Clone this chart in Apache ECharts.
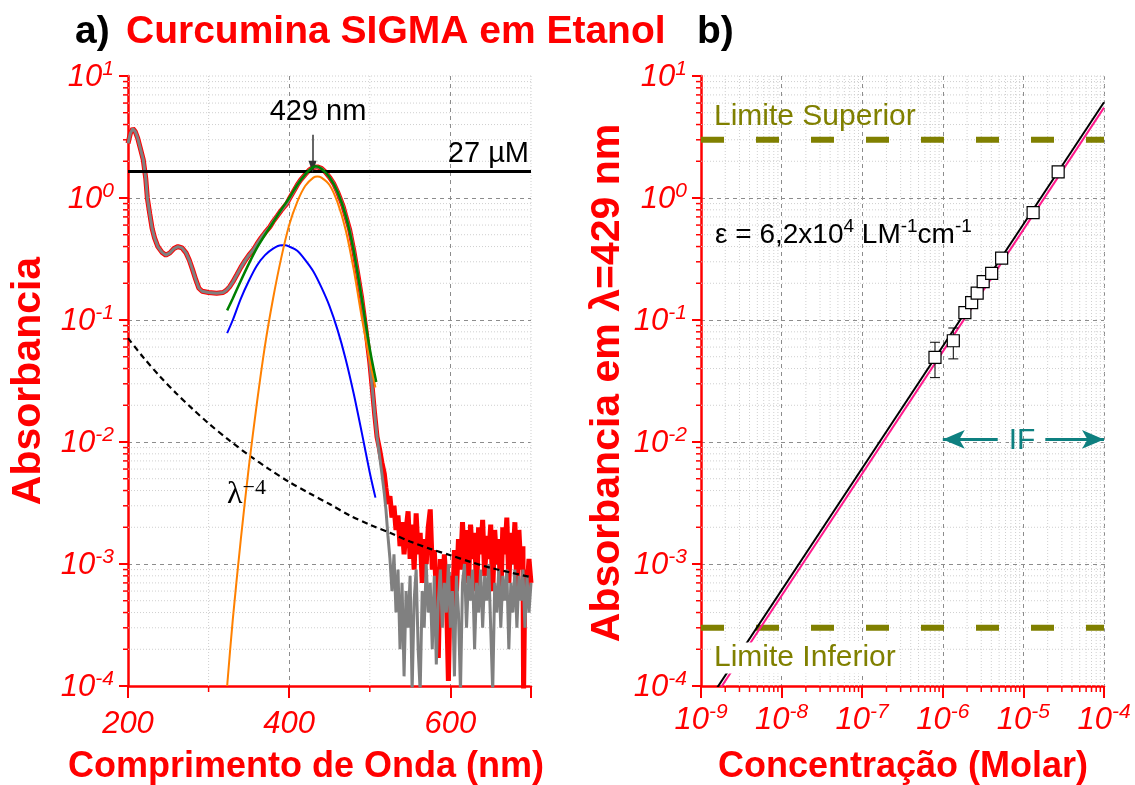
<!DOCTYPE html>
<html><head><meta charset="utf-8">
<script src="https://cdn.jsdelivr.net/npm/echarts@6/dist/echarts.min.js"></script>
<style>html,body{margin:0;padding:0;background:#fff}#c{width:1135px;height:785px}</style>
</head><body><div id="c"></div>
<script>
// ---------- Panel a) data: absorbance spectrum (wavelength nm, absorbance) ----------
const specMain = [[200,2.8],[203,3.4],[206,3.7],[209,3.5],[212,3.1],[215,2.6],[219,2.05],[222,1.45],[224,1.0],[227,0.74],[230,0.56],[233,0.47],[237,0.40],[242,0.36],[247,0.34],[252,0.355],[257,0.385],[262,0.40],[267,0.39],[272,0.355],[276,0.31],[280,0.26],[284,0.215],[288,0.182],[292,0.172],[300,0.168],[310,0.166],[318,0.168],[322,0.175],[326,0.187],[330,0.205],[335,0.235],[340,0.27],[345,0.305],[350,0.34],[356,0.38],[360,0.42],[365,0.47],[370,0.52],[376,0.58],[380,0.64],[385,0.71],[390,0.79],[397,0.90],[400,0.98],[405,1.12],[410,1.28],[414,1.40],[420,1.56],[425,1.70],[430,1.78],[435,1.80],[440,1.75],[445,1.63],[450,1.48],[455,1.32],[460,1.12],[464,0.96],[467,0.85],[470,0.72],[475,0.55],[480,0.375],[485,0.24],[490,0.15],[495,0.085],[500,0.045],[503,0.028],[506,0.017],[509,0.011]];
const redTail = [[512,0.0088],[515,0.0068],[518,0.0055],[520,0.0042],[522.5,0.0031],[525,0.0036],[527.5,0.0024],[530,0.0030],[532.5,0.0019],[535,0.0025],[537.5,0.0014],[540,0.0022],[542.5,0.0012],[545,0.0019],[547.5,0.0027],[550,0.0011],[552.5,0.0021],[555,0.0009],[557.5,0.0026],[560,0.0012],[562.5,0.0018],[565,0.0007],[567.5,0.0016],[570,0.0010],[572.5,0.0020],[575,0.0028],[577.5,0.0009],[580,0.0013],[582.5,0.0006],[585,0.00017],[587.5,0.0011],[590,0.0005],[592.5,0.0012],[595,0.0006],[597.5,0.00011],[600,0.0008],[602.5,0.0004],[605,0.0013],[607.5,0.0006],[610,0.0016],[612.5,0.0009],[615,0.0022],[617.5,0.0010],[620,0.0019],[622.5,0.0007],[625,0.0021],[627.5,0.0011],[630,0.0018],[632.5,0.0006],[635,0.0020],[637.5,0.0012],[640,0.0023],[642.5,0.0008],[645,0.0017],[647.5,0.0011],[650,0.0021],[652.5,0.0006],[655,0.0019],[657.5,0.0010],[660,0.0016],[662.5,0.0005],[665,0.0020],[667.5,0.0012],[670,0.0024],[672.5,0.0007],[675,0.0018],[677.5,0.0010],[680,0.0022],[682.5,0.0006],[685,0.0019],[687.5,0.0009],[690,0.0014],[690.8,0.00009],[692.5,0.0009],[695,0.0006],[697.5,0.0011],[700,0.0007]];
const grayTail = [[512,0.0078],[515,0.0055],[518,0.0038],[520,0.0028],[522.5,0.0017],[525,0.0011],[527.5,0.0006],[530,0.0012],[532.5,0.0004],[535,0.0009],[537.5,0.0002],[540,0.0007],[542.5,0.00012],[545,0.0006],[547.5,0.0003],[550,0.0008],[552.5,0.00009],[555,0.0005],[557.5,0.0009],[560,0.0002],[562.5,0.00009],[565,0.0006],[567.5,0.0003],[570,0.0010],[572.5,0.0004],[575,0.0007],[577.5,0.0002],[580,0.0008],[582.5,0.00015],[585,0.0005],[587.5,0.0009],[590,0.0003],[592.5,0.0007],[595,0.0004],[597.5,0.0010],[600,0.0003],[602.5,0.0006],[605,0.00012],[607.5,0.0008],[610,0.0004],[612.5,0.00009],[615,0.0007],[617.5,0.0010],[620,0.0003],[622.5,0.0008],[625,0.0005],[627.5,0.0009],[630,0.0002],[632.5,0.0007],[635,0.0004],[637.5,0.0009],[640,0.0003],[642.5,0.0008],[645,0.0005],[647.5,0.0010],[650,0.0003],[652.5,0.00009],[655,0.0007],[657.5,0.0004],[660,0.0009],[662.5,0.0003],[665,0.0008],[667.5,0.0005],[670,0.0009],[672.5,0.0002],[675,0.0007],[677.5,0.0004],[680,0.0009],[682.5,0.0003],[685,0.0008],[687.5,0.0005],[690,0.0009],[692.5,0.0003],[695,0.0008],[697.5,0.0004],[700,0.0007]];
const fitGreen = [[323,0.12],[330,0.15],[340,0.21],[350,0.29],[360,0.39],[370,0.50],[380,0.63],[390,0.80],[400,1.0],[410,1.28],[420,1.56],[428,1.76],[433,1.82],[440,1.74],[450,1.48],[460,1.12],[470,0.72],[480,0.37],[490,0.15],[500,0.058],[508,0.031]];
const fitBlue = [[323,0.078],[330,0.10],[340,0.15],[350,0.21],[360,0.28],[370,0.34],[380,0.385],[390,0.41],[395,0.41],[400,0.40],[410,0.37],[420,0.31],[430,0.25],[440,0.185],[450,0.13],[460,0.083],[470,0.048],[480,0.025],[490,0.012],[500,0.0056],[507,0.0035]];
const fitOrange = [[323,0.0001],[330,0.00035],[340,0.0016],[350,0.0063],[360,0.021],[370,0.062],[380,0.15],[390,0.32],[400,0.60],[410,0.93],[420,1.26],[430,1.47],[435,1.50],[440,1.47],[450,1.28],[460,0.92],[470,0.55],[480,0.26],[490,0.105],[500,0.046],[507,0.028]];
const scatterLambda4 = [[200,0.071],[220,0.0485],[240,0.0343],[260,0.025],[280,0.0187],[300,0.0142],[325,0.0104],[350,0.0078],[375,0.0060],[400,0.0047],[425,0.0038],[450,0.0031],[475,0.0025],[500,0.0021],[525,0.0018],[550,0.00153],[575,0.00133],[600,0.00118],[625,0.00104],[650,0.00093],[675,0.00085],[700,0.00078]];
const level27uM = 1.66;
const peakArrow = [[429,3.3],[429,1.8]];

// ---------- Panel b) data: calibration (molar concentration, absorbance at 429 nm) ----------
const concM  = [8.0e-7, 1.35e-6, 1.88e-6, 2.28e-6, 2.67e-6, 3.17e-6, 4.04e-6, 5.37e-6, 1.32e-5, 2.70e-5];
const absA   = [0.0494, 0.0676, 0.115, 0.139, 0.166, 0.206, 0.241, 0.321, 0.758, 1.64];
const absLo  = [0.0337, 0.048, 0.106, 0.128, 0.153, 0.19, 0.225, 0.30, 0.72, 1.56];
const absHi  = [0.0657, 0.086, 0.125, 0.151, 0.18, 0.222, 0.258, 0.342, 0.80, 1.72];
const fitBlack = [[1e-9,6.1e-5],[1e-4,6.1]];
const fitPink  = [[1e-9,5.5e-5],[1e-4,5.5]];
const limitSupLine = [[1e-9,3.0],[1e-4,3.0]];
const limitInfLine = [[1e-9,3.0e-4],[1e-4,3.0e-4]];
const ifLeft  = [[1e-6,0.0105],[4.8e-6,0.0105]];
const ifRight = [[1.87e-5,0.0105],[1e-4,0.0105]];

// ---------- axis tick structure ----------
const decadesY = [-4,-3,-2,-1,0];
const decadesX = [-9,-8,-7,-6,-5];
const mult = [2,3,4,5,6,7,8,9];
const yMinor = []; decadesY.forEach(d=>mult.forEach(k=>yMinor.push(k*Math.pow(10,d))));
const xMinorB = []; decadesX.forEach(d=>mult.forEach(k=>xMinorB.push(k*Math.pow(10,d))));
const xMinorA = [300,500];

const RED='#ff0000';
const OLIVE='#808000';
const FONT='"Liberation Sans", Arial, Helvetica, sans-serif';
const richTick = {
  b:{fontSize:31,fontStyle:'italic',color:RED,fontFamily:FONT,lineHeight:34,verticalAlign:'bottom'},
  s:{fontSize:21,fontStyle:'italic',color:RED,fontFamily:FONT,lineHeight:21,verticalAlign:'top'}
};
function powLabel(v){const e=Math.round(Math.log10(v));return '{b|10}{s|'+e+'}';}
const majorSplit = {show:true,showMinLine:false,showMaxLine:false,lineStyle:{color:'#8c8c8c',width:1,type:[4,4]}};

function minorRenderer(xMin, yMin, xr, yr){
  return function(params, api){
    const ch=[];
    const dot={stroke:'#cfcfcf',lineWidth:1,lineDash:[1,2]};
    yMin.concat([yr[1]]).forEach(v=>{
      const a=api.coord([xr[0],v]), b=api.coord([xr[1],v]);
      ch.push({type:'line',shape:{x1:a[0],y1:a[1],x2:b[0],y2:b[1]},style:dot});
    });
    yMin.forEach(v=>{
      const a=api.coord([xr[0],v]);
      ch.push({type:'line',shape:{x1:a[0]-5,y1:a[1],x2:a[0],y2:a[1]},style:{stroke:RED,lineWidth:1.5}});
    });
    xMin.concat([xr[1]]).forEach(v=>{
      const a=api.coord([v,yr[0]]), b=api.coord([v,yr[1]]);
      ch.push({type:'line',shape:{x1:a[0],y1:a[1],x2:b[0],y2:b[1]},style:dot});
    });
    xMin.forEach(v=>{
      const a=api.coord([v,yr[0]]);
      ch.push({type:'line',shape:{x1:a[0],y1:a[1],x2:a[0],y2:a[1]+6},style:{stroke:RED,lineWidth:1.5}});
    });
    return {type:'group',children:ch};
  };
}

const chart = echarts.init(document.getElementById('c'), null, {renderer:'canvas'});
const axisLineStyle = {show:true,onZero:false,lineStyle:{color:RED,width:2.5}};
const option = {
  animation:false,
  grid:[
    {left:128,top:76,width:403,height:610},
    {left:701,top:76,width:403,height:610}
  ],
  xAxis:[
    {type:'value',gridIndex:0,min:200,max:700,interval:200,
     axisLine:axisLineStyle,axisTick:{show:true,length:12,lineStyle:{color:RED,width:2}},
     axisLabel:{formatter:v=>v===700?'':'{b|'+v+'}',rich:richTick,margin:20},
     splitLine:majorSplit},
    {type:'log',gridIndex:1,min:1e-9,max:1e-4,logBase:10,splitNumber:5,
     axisLine:axisLineStyle,axisTick:{show:true,length:12,lineStyle:{color:RED,width:2}},
     axisLabel:{formatter:powLabel,rich:richTick,margin:16},
     splitLine:majorSplit}
  ],
  yAxis:[
    {type:'log',gridIndex:0,min:1e-4,max:10,logBase:10,splitNumber:5,
     axisLine:axisLineStyle,axisTick:{show:true,length:9,lineStyle:{color:RED,width:2}},
     axisLabel:{formatter:powLabel,rich:richTick,margin:14},
     splitLine:majorSplit},
    {type:'log',gridIndex:1,min:1e-4,max:10,logBase:10,splitNumber:5,
     axisLine:axisLineStyle,axisTick:{show:true,length:9,lineStyle:{color:RED,width:2}},
     axisLabel:{formatter:powLabel,rich:richTick,margin:14},
     splitLine:majorSplit}
  ],
  series:[
    {type:'custom',xAxisIndex:0,yAxisIndex:0,z:1,silent:true,data:[[450,0.01]],
     renderItem:minorRenderer(xMinorA,yMinor,[200,700],[1e-4,10])},
    {type:'custom',xAxisIndex:1,yAxisIndex:1,z:1,silent:true,data:[[1e-6,0.01]],
     renderItem:minorRenderer(xMinorB,yMinor,[1e-9,1e-4],[1e-4,10])},
    // panel a
    {name:'27 uM',type:'line',xAxisIndex:0,yAxisIndex:0,data:[],z:2,
     markLine:{silent:true,symbol:'none',animation:false,
       lineStyle:{color:'#000',width:3,type:'solid'},
       label:{show:true,position:'insideEndTop',formatter:'27 µM',color:'#000',fontSize:29,fontFamily:FONT,distance:[2,3]},
       data:[{yAxis:level27uM}]}},
    {name:'red',type:'line',xAxisIndex:0,yAxisIndex:0,z:3,showSymbol:false,
     data:specMain.concat(redTail),lineStyle:{color:'#ff0000',width:5},itemStyle:{color:'#ff0000'}},
    {name:'gray',type:'line',xAxisIndex:0,yAxisIndex:0,z:4,showSymbol:false,
     data:specMain.concat(grayTail),lineStyle:{color:'#808080',width:3},itemStyle:{color:'#808080'}},
    {name:'lambda4',type:'line',xAxisIndex:0,yAxisIndex:0,z:5,showSymbol:false,smooth:0.3,
     data:scatterLambda4,lineStyle:{color:'#000',width:2.2,type:[6,4]}},
    {name:'blue',type:'line',xAxisIndex:0,yAxisIndex:0,z:6,showSymbol:false,smooth:0.3,
     data:fitBlue,lineStyle:{color:'#0000ff',width:2}},
    {name:'orange',type:'line',xAxisIndex:0,yAxisIndex:0,z:7,showSymbol:false,smooth:0.3,
     data:fitOrange,lineStyle:{color:'#ff8000',width:2}},
    {name:'green',type:'line',xAxisIndex:0,yAxisIndex:0,z:8,showSymbol:false,smooth:0.3,
     data:fitGreen,lineStyle:{color:'#008000',width:2.5}},
    {name:'arrow429',type:'line',xAxisIndex:0,yAxisIndex:0,data:[],z:9,
     markLine:{silent:true,symbol:['none','triangle'],symbolSize:[8,12],animation:false,
       lineStyle:{color:'#333',width:1.5,type:'solid'},label:{show:false},
       data:[[{coord:peakArrow[0]},{coord:peakArrow[1]}]]}},
    // panel b
    {name:'limSup',type:'line',xAxisIndex:1,yAxisIndex:1,z:2,showSymbol:false,silent:true,
     data:limitSupLine,lineStyle:{color:OLIVE,width:6,type:[23,32]}},
    {name:'limInf',type:'line',xAxisIndex:1,yAxisIndex:1,z:2,showSymbol:false,silent:true,
     data:limitInfLine,lineStyle:{color:OLIVE,width:6,type:[23,32]}},
    {name:'IF',type:'line',xAxisIndex:1,yAxisIndex:1,data:[],z:3,
     markLine:{silent:true,animation:false,symbolSize:[14,22],
       lineStyle:{color:'#0e8080',width:3,type:'solid'},label:{show:false},
       data:[
         [{coord:ifLeft[0],symbol:'arrow'},{coord:ifLeft[1],symbol:'none'}],
         [{coord:ifRight[0],symbol:'none'},{coord:ifRight[1],symbol:'arrow'}]
       ]}},
    {name:'fitBlack',type:'line',xAxisIndex:1,yAxisIndex:1,z:4,showSymbol:false,
     data:fitBlack,lineStyle:{color:'#000',width:2}},
    {name:'fitPink',type:'line',xAxisIndex:1,yAxisIndex:1,z:5,showSymbol:false,
     data:fitPink,lineStyle:{color:'#ff1a8c',width:2}},
    {name:'err',type:'custom',xAxisIndex:1,yAxisIndex:1,z:6,silent:true,
     data:concM.map((c,i)=>[c,absLo[i],absHi[i]]),encode:{x:0,y:[1,2]},
     renderItem:function(params,api){
       const c=api.value(0),lo=api.value(1),hi=api.value(2);
       const p1=api.coord([c,lo]),p2=api.coord([c,hi]);const w=5;
       const st={stroke:'#000',lineWidth:1};
       return {type:'group',children:[
         {type:'line',shape:{x1:p1[0],y1:p1[1],x2:p2[0],y2:p2[1]},style:st},
         {type:'line',shape:{x1:p1[0]-w,y1:p1[1],x2:p1[0]+w,y2:p1[1]},style:st},
         {type:'line',shape:{x1:p2[0]-w,y1:p2[1],x2:p2[0]+w,y2:p2[1]},style:st}]};
     }},
    {name:'pts',type:'scatter',xAxisIndex:1,yAxisIndex:1,z:7,symbol:'rect',symbolSize:12,
     data:concM.map((c,i)=>[c,absA[i]]),itemStyle:{color:'#ffffff',opacity:1,borderColor:'#000',borderWidth:1.2}}
  ],
  graphic:[
    {type:'text',x:75,y:32,z:100,style:{text:'a)',fontSize:39,fontWeight:'bold',fontFamily:FONT,fill:'#000',textAlign:'left',textVerticalAlign:'middle'}},
    {type:'text',x:126,y:32,z:100,style:{text:'Curcumina SIGMA em Etanol',fontSize:39,fontWeight:'bold',fontFamily:FONT,fill:RED,textAlign:'left',textVerticalAlign:'middle'}},
    {type:'text',x:697,y:32,z:100,style:{text:'b)',fontSize:39,fontWeight:'bold',fontFamily:FONT,fill:'#000',textAlign:'left',textVerticalAlign:'middle'}},
    {type:'text',x:29,y:381,rotation:Math.PI/2,z:100,style:{text:'Absorbancia',fontSize:41,fontWeight:'bold',fontFamily:FONT,fill:RED,textAlign:'center',textVerticalAlign:'middle'}},
    {type:'text',x:608,y:383,rotation:Math.PI/2,z:100,style:{text:'Absorbancia em λ=429 nm',fontSize:41,fontWeight:'bold',fontFamily:FONT,fill:RED,textAlign:'center',textVerticalAlign:'middle'}},
    {type:'text',x:306,y:767,z:100,style:{text:'Comprimento de Onda (nm)',fontSize:36,fontWeight:'bold',fontFamily:FONT,fill:RED,textAlign:'center',textVerticalAlign:'middle'}},
    {type:'text',x:903,y:767,z:100,style:{text:'Concentração (Molar)',fontSize:36,fontWeight:'bold',fontFamily:FONT,fill:RED,textAlign:'center',textVerticalAlign:'middle'}},
    {type:'text',x:318,y:112,z:100,style:{text:'429 nm',fontSize:29,fontFamily:FONT,fill:'#000',textAlign:'center',textVerticalAlign:'middle'}},
    {type:'text',x:714,y:117,z:100,style:{text:'Limite Superior',fontSize:30,fontFamily:FONT,fill:OLIVE,textAlign:'left',textVerticalAlign:'middle'}},
    {type:'text',x:712,y:658,z:100,style:{text:'Limite Inferior',fontSize:30,fontFamily:FONT,fill:OLIVE,textAlign:'left',textVerticalAlign:'middle',backgroundColor:'#ffffff',padding:[1,2,0,2]}},
    {type:'text',x:227,y:494,z:100,style:{text:'{l|λ}{s|−4}',textAlign:'left',textVerticalAlign:'middle',
      rich:{l:{fontSize:32,fontFamily:'"Liberation Serif", "DejaVu Serif", serif',fill:'#000',color:'#000',lineHeight:34,verticalAlign:'bottom'},
            s:{fontSize:22,fontFamily:'"Liberation Serif", "DejaVu Serif", serif',fill:'#000',color:'#000',lineHeight:22,verticalAlign:'top'}}}},
    {type:'text',x:715,y:233,z:100,style:{text:'{n|ε = 6,2x10}{s|4}{n| LM}{s|-1}{n|cm}{s|-1}',textAlign:'left',textVerticalAlign:'middle',
      rich:{n:{fontSize:28,fontFamily:FONT,fill:'#000',color:'#000',lineHeight:32,verticalAlign:'bottom'},
            s:{fontSize:19,fontFamily:FONT,fill:'#000',color:'#000',lineHeight:19,verticalAlign:'top'}}}},
    {type:'text',x:1022,y:441,z:100,style:{text:'IF',fontSize:30,fontFamily:FONT,fill:'#0e8080',textAlign:'center',textVerticalAlign:'middle'}}
  ]
};
chart.setOption(option);
</script></body></html>
